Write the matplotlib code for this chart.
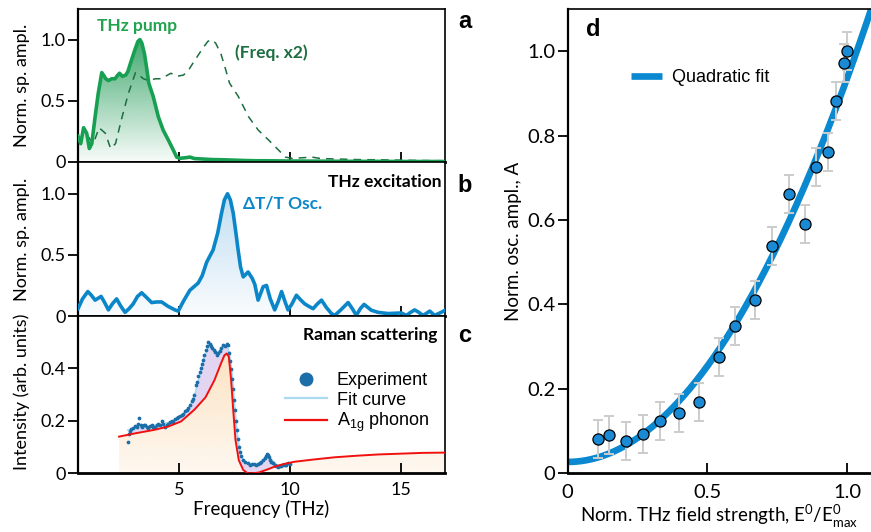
import numpy as np
import matplotlib
matplotlib.use("Agg")
import matplotlib.pyplot as plt
import matplotlib.colors as mcolors
from matplotlib.patches import Polygon

plt.rcParams["font.family"] = ["Lato", "DejaVu Sans"]
plt.rcParams["font.size"] = 12.5

# ---- panel a: THz pump spectrum (normalised), dashed = same with freq x2
pump_f = [0.45, 0.57, 0.70, 0.84, 0.96, 1.07, 1.22, 1.36, 1.52, 1.60, 1.70, 1.82,
          1.97, 2.12, 2.22, 2.32, 2.45, 2.60, 2.70, 2.82, 3.02, 3.15, 3.24, 3.33,
          3.45, 3.55, 3.64, 3.84, 4.07, 4.29, 4.52, 4.74, 4.90, 5.05, 5.30, 5.50,
          5.70, 6.00, 6.50, 7.00, 7.50, 8.00, 8.50, 9.00, 10.0, 11.0, 12.0, 13.0,
          14.0, 15.0, 16.0, 17.0]
pump_a = [0.21, 0.15, 0.28, 0.235, 0.11, 0.15, 0.37, 0.56, 0.73, 0.71, 0.68, 0.665,
          0.68, 0.68, 0.705, 0.725, 0.70, 0.71, 0.74, 0.81, 0.92, 0.985, 1.0, 0.97,
          0.88, 0.76, 0.645, 0.535, 0.37, 0.26, 0.18, 0.10, 0.04, 0.03, 0.035, 0.04,
          0.028, 0.025, 0.02, 0.018, 0.015, 0.012, 0.01, 0.01, 0.008, 0.007, 0.006,
          0.005, 0.005, 0.004, 0.004, 0.004]

# ---- panel b: dT/T oscillation spectrum
osc_f = [0.45, 0.65, 0.89, 1.05, 1.22, 1.49, 1.65, 1.82, 2.00, 2.19, 2.38, 2.57,
         2.75, 2.94, 3.13, 3.32, 3.55, 3.77, 4.00, 4.22, 4.50, 4.82, 4.97, 5.20,
         5.49, 5.87, 6.05, 6.25, 6.54, 6.75, 6.92, 7.05, 7.19, 7.32, 7.45, 7.57,
         7.67, 7.78, 7.90, 8.12, 8.30, 8.42, 8.57, 8.80, 8.95, 9.12, 9.32, 9.48,
         9.63, 9.78, 9.92, 10.10, 10.30, 10.50, 10.67, 10.85, 11.05, 11.25, 11.43,
         11.65, 11.88, 12.03, 12.30, 12.63, 12.82, 13.0, 13.18, 13.35, 13.68, 13.98,
         14.43, 15.03, 15.26, 15.45, 15.63, 15.82, 16.0, 16.15, 16.31, 16.53, 16.83, 17.0]
osc_a = [0.06, 0.14, 0.20, 0.17, 0.13, 0.16, 0.11, 0.05, 0.10, 0.14, 0.08, 0.03,
         0.06, 0.10, 0.16, 0.19, 0.15, 0.11, 0.115, 0.115, 0.08, 0.05, 0.04, 0.12,
         0.21, 0.27, 0.33, 0.44, 0.54, 0.68, 0.84, 0.95, 1.0, 0.95, 0.84, 0.68,
         0.54, 0.40, 0.32, 0.36, 0.31, 0.26, 0.13, 0.24, 0.25, 0.14, 0.05, 0.12,
         0.20, 0.12, 0.05, 0.10, 0.17, 0.13, 0.10, 0.08, 0.06, 0.10, 0.13,
         0.07, 0.02, 0.005, 0.05, 0.11, 0.06, 0.005, 0.06, 0.095, 0.047, 0.03,
         0.02, 0.025, 0.005, 0.03, 0.05, 0.03, 0.005, 0.02, 0.04, 0.005, 0.03, 0.047]

# ---- panel c: Raman scattering
exp_f = [2.69, 2.75, 2.79, 2.86, 2.94, 3.01, 3.09, 3.15, 3.20, 3.27, 3.35, 3.41,
         3.47, 3.55, 3.62, 3.70, 3.77, 3.85, 3.92, 4.00, 4.07, 4.15, 4.22, 4.30,
         4.37, 4.45, 4.52, 4.60, 4.67, 4.75, 4.82, 4.90, 4.97, 5.05, 5.12, 5.20,
         5.27, 5.35, 5.42, 5.50, 5.57, 5.63, 5.69, 5.76, 5.82, 5.87, 5.93, 5.99,
         6.04, 6.09, 6.15, 6.20, 6.26, 6.32, 6.38, 6.44, 6.50, 6.56, 6.63, 6.70,
         6.77, 6.85, 6.92, 7.00, 7.07, 7.15, 7.21, 7.27, 7.32, 7.37, 7.41, 7.45,
         7.49, 7.52, 7.56, 7.60, 7.65, 7.70, 7.76, 7.82, 7.91, 8.00, 8.10, 8.20,
         8.30, 8.39, 8.48, 8.57, 8.65, 8.72, 8.80, 8.87, 8.92, 8.96, 9.02, 9.07,
         9.12, 9.17, 9.25, 9.32, 9.40, 9.47, 9.55, 9.62, 9.70, 9.77, 9.85, 9.92, 10.0]
exp_i = [0.121, 0.15, 0.16, 0.168, 0.172, 0.182, 0.178, 0.19, 0.21, 0.185, 0.178, 0.183,
         0.185, 0.176, 0.172, 0.18, 0.185, 0.176, 0.178, 0.186, 0.19, 0.184, 0.198, 0.188,
         0.178, 0.186, 0.19, 0.196, 0.20, 0.197, 0.207, 0.21, 0.215, 0.218, 0.224, 0.228,
         0.236, 0.242, 0.249, 0.262, 0.274, 0.285, 0.30, 0.338, 0.35, 0.37, 0.385, 0.40,
         0.418, 0.434, 0.45, 0.472, 0.485, 0.50, 0.495, 0.485, 0.478, 0.47, 0.462, 0.453,
         0.458, 0.466, 0.478, 0.49, 0.487, 0.495, 0.49, 0.46, 0.43, 0.396, 0.36, 0.32,
         0.28, 0.243, 0.2, 0.166, 0.13, 0.10, 0.08, 0.066, 0.052, 0.045, 0.038, 0.032,
         0.035, 0.034, 0.03, 0.036, 0.04, 0.045, 0.05, 0.057, 0.065, 0.073, 0.068, 0.061,
         0.052, 0.045, 0.038, 0.032, 0.028, 0.025, 0.028, 0.027, 0.03, 0.032, 0.03, 0.038, 0.036]

fit_f = [2.7, 3.0, 3.5, 4.0, 4.5, 5.0, 5.3, 5.55, 5.75, 5.95, 6.15, 6.35, 6.55,
         6.75, 6.95, 7.15, 7.28, 7.38, 7.46, 7.54, 7.62, 7.72, 7.85, 8.0, 8.2,
         8.5, 8.75, 8.95, 9.15, 9.4, 9.7, 10.0]
fit_i = [0.165, 0.172, 0.178, 0.185, 0.193, 0.212, 0.232, 0.265, 0.31, 0.38, 0.445,
         0.485, 0.475, 0.46, 0.48, 0.49, 0.455, 0.39, 0.31, 0.23, 0.155, 0.095,
         0.06, 0.043, 0.034, 0.035, 0.048, 0.068, 0.055, 0.032, 0.03, 0.036]

phon_f = [2.3, 3.0, 3.9, 4.5, 5.1, 5.7, 6.2, 6.6, 6.9, 7.05, 7.15, 7.25, 7.35, 7.45,
          7.55, 7.7, 7.9, 8.1, 8.3, 8.6, 9.0, 9.3, 9.7, 10.2, 11.0, 12.0, 13.0,
          14.0, 15.0, 16.0, 17.0]
phon_i = [0.14, 0.152, 0.166, 0.178, 0.198, 0.243, 0.29, 0.355, 0.42, 0.45, 0.457,
          0.445, 0.36, 0.24, 0.128, 0.05, 0.013, 0.0, 0.0, 0.003, 0.015, 0.025, 0.035,
          0.044, 0.052, 0.061, 0.067, 0.072, 0.075, 0.078, 0.079]

# ---- panel d: oscillation amplitude vs field strength
field = [0.109, 0.149, 0.209, 0.268, 0.330, 0.399, 0.470, 0.540, 0.600, 0.670,
         0.730, 0.790, 0.849, 0.890, 0.930, 0.960, 0.989, 1.0]
ampl = [0.081, 0.091, 0.077, 0.093, 0.123, 0.144, 0.168, 0.275, 0.348, 0.410,
        0.538, 0.662, 0.591, 0.725, 0.762, 0.882, 0.973, 1.001]
ampl_err = [0.045] * len(field)
fit_a0, fit_a2 = 0.027, 0.91   # quadratic fit A = a0 + a2 * E^2

GREEN = "#17a052"
DGREEN = "#1d6e40"
BLUE = "#0b87c9"
RED = "#f01010"
DOT = "#1c6ea8"


def gradient_under(ax, x, y, color, a_top, a_bot, y_top, zorder=1):
    img = np.zeros((256, 1, 4))
    img[:, :, :3] = mcolors.to_rgb(color)
    img[:, 0, 3] = np.linspace(a_bot, a_top, 256)
    im = ax.imshow(img, extent=[min(x), max(x), 0, y_top], origin="lower",
                   aspect="auto", zorder=zorder, interpolation="bilinear")
    verts = np.vstack([[x[0], 0], np.column_stack([x, y]), [x[-1], 0]])
    clip = Polygon(verts, closed=True, transform=ax.transData,
                   facecolor="none", edgecolor="none")
    ax.add_patch(clip)
    im.set_clip_path(clip)


def style_left(ax, ylim, yticks, ylabels):
    ax.set_xlim(0.45, 17.0)
    ax.set_ylim(*ylim)
    ax.set_xticks([5, 10, 15])
    ax.set_yticks(yticks)
    ax.set_yticklabels(ylabels)
    ax.tick_params(axis="x", direction="in", length=7, width=1.3, labelsize=13)
    ax.tick_params(axis="y", direction="out", length=7, width=1.3, pad=2, labelsize=13)
    for s in ax.spines.values():
        s.set_linewidth(1.2)
    ax.spines["bottom"].set_linewidth(2.0)
    ax.spines["left"].set_linewidth(1.6)


fig = plt.figure(figsize=(8.71, 5.32), dpi=100)
ax_a = fig.add_axes([0.0896, 0.6955, 0.4213, 0.2876])
ax_b = fig.add_axes([0.0896, 0.4060, 0.4213, 0.2895])
ax_c = fig.add_axes([0.0896, 0.1103, 0.4213, 0.2957])
ax_d = fig.add_axes([0.6518, 0.1103, 0.3482, 0.8727])

# panel a
pf = np.array(pump_f)
gradient_under(ax_a, pump_f, pump_a, "#1f9a55", 0.85, 0.03, 1.0)
ax_a.plot(pf * 2, pump_a, color=DGREEN, lw=1.1, ls=(0, (5, 4)), zorder=3)
ax_a.plot(pump_f, pump_a, color=GREEN, lw=2.6, zorder=4)
ax_a.text(1.31, 1.115, "THz pump", color="#22a34f", fontweight="bold",
          fontsize=12.5, va="center")
ax_a.text(7.52, 0.89, "(Freq. x2)", color=DGREEN, fontweight="bold",
          fontsize=12.5, va="center")
style_left(ax_a, (0, 1.25), [0, 0.5, 1.0], ["0", "0.5", "1.0"])
ax_a.set_xticklabels([])
ax_a.set_ylabel("Norm. sp. ampl.", fontsize=13)
ax_a.yaxis.set_label_coords(-0.13, 0.5)

# panel b
gradient_under(ax_b, osc_f, osc_a, "#4a9fd8", 0.35, 0.03, 1.0)
ax_b.plot(osc_f, osc_a, color=BLUE, lw=2.6, zorder=4)
ax_b.text(7.88, 0.92, "ΔT/T Osc.", color=BLUE, fontweight="bold",
          fontsize=12.5, va="center")
ax_b.text(16.85, 1.10, "THz excitation", color="black", fontweight="bold",
          fontsize=12.5, va="center", ha="right")
style_left(ax_b, (0, 1.26), [0, 0.5, 1.0], ["0", "0.5", "1.0"])
ax_b.set_xticklabels([])
ax_b.set_ylabel("Norm. sp. ampl.", fontsize=13)
ax_b.yaxis.set_label_coords(-0.13, 0.5)

# panel c
gradient_under(ax_c, phon_f, phon_i, "#f7b868", 0.40, 0.10, 0.46)
phon_on_fit = np.interp(fit_f, phon_f, phon_i)
ax_c.fill_between(fit_f, phon_on_fit, fit_i, where=np.array(fit_i) >= phon_on_fit,
                  interpolate=True, color="#dccbef", alpha=0.8, lw=0, zorder=2)
ax_c.plot(fit_f, fit_i, color="#a9daf2", lw=1.3, zorder=3)
ax_c.plot(exp_f, exp_i, ls="none", marker="o", ms=1.7, color=DOT, zorder=4)
ax_c.plot(phon_f, phon_i, color=RED, lw=1.4, zorder=5)
ax_c.text(16.67, 0.526, "Raman scattering", color="black", fontweight="bold",
          fontsize=12.5, va="center", ha="right")
style_left(ax_c, (0, 0.60), [0, 0.2, 0.4], ["0", "0.2", "0.4"])
ax_c.set_xticklabels(["5", "10", "15"])
ax_c.tick_params(axis="x", pad=6)
ax_c.set_xlabel("Frequency (THz)", labelpad=2, fontsize=13.5)
ax_c.set_ylabel("Intensity (arb. units)", fontsize=13)
ax_c.yaxis.set_label_coords(-0.13, 0.52)

h_exp, = ax_c.plot([], [], ls="none", marker="o", ms=9, color=DOT)
h_fit, = ax_c.plot([], [], color="#a9daf2", lw=1.6)
h_ph, = ax_c.plot([], [], color=RED, lw=1.6)
ax_c.legend([h_exp, h_fit, h_ph], ["Experiment", "Fit curve", r"A$_{\mathregular{1g}}$ phonon"],
            loc="upper left", bbox_to_anchor=(0.52, 0.745), frameon=False,
            handlelength=2.3, handletextpad=0.55, labelspacing=0.12,
            prop={"family": "Liberation Sans", "size": 13})

# panel d
xs = np.linspace(0, 1.1, 200)
ax_d.plot(xs, fit_a0 + fit_a2 * xs ** 2, color="#0a88d0", lw=4.8, zorder=2,
          solid_capstyle="butt", label="Quadratic fit")
ax_d.errorbar(field, ampl, yerr=ampl_err, fmt="none", ecolor="#cccccc",
              elinewidth=1.4, capsize=3.5, capthick=1.4, zorder=3)
ax_d.plot(field, ampl, ls="none", marker="o", ms=8, mfc="#1a8ad4",
          mec="black", mew=0.9, zorder=4)
ax_d.set_xlim(0, 1.085)
ax_d.set_ylim(0, 1.10)
ax_d.set_xticks([0, 0.5, 1.0])
ax_d.set_xticklabels(["0", "0.5", "1.0"])
ax_d.set_yticks([0, 0.2, 0.4, 0.6, 0.8, 1.0])
ax_d.set_yticklabels(["0", "0.2", "0.4", "0.6", "0.8", "1.0"])
ax_d.tick_params(axis="x", direction="in", length=7, width=1.3, pad=8, labelsize=14.5)
ax_d.tick_params(axis="y", direction="out", length=7, width=1.3, pad=2, labelsize=14.5)
for s in ax_d.spines.values():
    s.set_linewidth(1.2)
ax_d.spines["bottom"].set_linewidth(2.0)
ax_d.spines["left"].set_linewidth(1.6)
ax_d.spines["right"].set_visible(False)
ax_d.set_xlabel(r"Norm. THz field strength, E$^{\mathregular{0}}$/E$^{\mathregular{0}}_{\mathregular{max}}$",
                labelpad=1, fontsize=13.5)
ax_d.set_ylabel("Norm. osc. ampl., A", fontsize=13.5)
ax_d.yaxis.set_label_coords(-0.15, 0.5)
ax_d.legend(loc="upper left", bbox_to_anchor=(0.155, 0.905), frameon=False,
            handlelength=1.7, handletextpad=0.55,
            prop={"family": "Liberation Sans", "size": 13})

# panel letters
for lab, x, y in [("a", 465, 22), ("b", 465, 185), ("c", 465, 335), ("d", 593, 30)]:
    fig.text(x / 871, 1 - y / 532, lab, fontsize=17, fontweight="bold",
             family="Liberation Sans", ha="center", va="center")

fig.savefig("out.png", dpi=100)
